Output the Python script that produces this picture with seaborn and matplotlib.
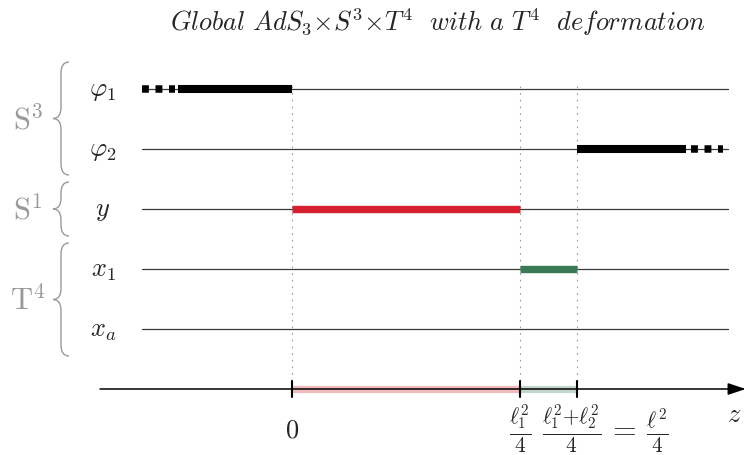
import numpy as np
import pandas as pd
import matplotlib
matplotlib.use("Agg")
import matplotlib.pyplot as plt
import seaborn as sns
from matplotlib.path import Path
from matplotlib.patches import PathPatch
from matplotlib.transforms import Affine2D

# ---------------- data ----------------
title = r"$Global\ AdS_3{\times}S^3{\times}T^4\ \ with\ a\ T^4\ \ deformation$"
row_labels = [r"$\varphi_1$", r"$\varphi_2$", r"$y$", r"$x_1$", r"$x_a$"]
z_marks = [0.0, 1.0, 1.25]
z_tick_labels = [r"$0$", r"$\frac{\ell_1^2}{4}$",
                 r"$\frac{\ell_1^2{+}\ell_2^2}{4}\,=\,\frac{\ell^2}{4}$"]
line_start, line_end = -0.658, 1.912
axis_start, axis_end = -0.842, 1.99

seg_row = [0, 1, 2, 3]
seg_start = [-0.5, 1.25, 0.0, 1.0]
seg_end = [0.0, 1.728, 1.0, 1.25]
seg_color = ["#000000", "#000000", "#d7202f", "#3b7a57"]
seg_width = [5.8, 5.8, 5.3, 5.3]

dash_row = [0, 1]
dash_start = [-0.658, 1.748]
dash_end = [-0.512, 1.891]

band_start = [0.0, 1.0]
band_end = [1.0, 1.25]
band_color = ["#d7202f", "#3b7a57"]

groups = [r"$\mathrm{S}^3$", r"$\mathrm{S}^1$", r"$\mathrm{T}^4$"]

# ---------------- figure ----------------
sns.set_theme(style="white")
plt.rcParams["mathtext.fontset"] = "cm"
plt.rcParams["font.family"] = ["DejaVu Sans"]

W, H = 750, 456
fig = plt.figure(figsize=(W / 100, H / 100), dpi=100)
ax = fig.add_axes([0, 0, 1, 1])
z0_px, unit_px = 292, 228
r0_px, row_px = 90, 60
ax.set_xlim((0 - z0_px) / unit_px, (W - z0_px) / unit_px)
ax.set_ylim((H - r0_px) / row_px, (0 - r0_px) / row_px)
ax.axis("off")

pix = Affine2D().scale(1 / W, -1 / H).translate(0, 1) + fig.transFigure

axis_row = len(row_labels)

# base lines
base = pd.DataFrame({
    "z": [line_start, line_end] * len(row_labels),
    "row": np.repeat(np.arange(len(row_labels)), 2),
})
sns.lineplot(data=base, x="z", y="row", units="row", estimator=None,
             color="#3a3a3a", lw=0.9, sort=False, ax=ax, zorder=2)

# dotted verticals
for zm in z_marks:
    ax.plot([zm, zm], [-0.05, axis_row - 0.08], color="#9a9a9a", lw=0.8,
            linestyle=(0, (1.5, 4.5)), zorder=1)

# thick segments
for i, (r, a, b, c, w) in enumerate(zip(seg_row, seg_start, seg_end,
                                         seg_color, seg_width)):
    seg = pd.DataFrame({"z": [a, b], "row": [r, r]})
    sns.lineplot(data=seg, x="z", y="row", estimator=None, color=c, lw=w,
                 sort=False, ax=ax, zorder=4, solid_capstyle="butt")

# dashed (square dots) extensions
for r, a, b in zip(dash_row, dash_start, dash_end):
    ax.plot([a, b], [r, r], color="black", lw=5.4,
            linestyle=(0, (0.92, 0.88)), dash_capstyle="butt", zorder=4)

# row labels
for i, lab in enumerate(row_labels):
    ax.text((103 - z0_px) / unit_px, i, lab, ha="center", va="center",
            fontsize=19)

# z axis
ax.annotate("", xy=(axis_end, axis_row), xytext=(axis_start, axis_row),
            arrowprops=dict(arrowstyle="-|>,head_length=0.9,head_width=0.3",
                            color="black", lw=1.1, shrinkA=0, shrinkB=0),
            zorder=3)
for a, b, c in zip(band_start, band_end, band_color):
    ax.plot([a, b], [axis_row, axis_row], color=c, alpha=0.3, lw=5.2,
            solid_capstyle="butt", zorder=2)
for zm in z_marks:
    ax.plot([zm, zm], [axis_row - 0.14, axis_row + 0.14], color="black",
            lw=1.5, zorder=5)
ax.text(axis_end - 0.05, axis_row + 0.42, r"$z$", ha="center", va="center",
        fontsize=19)

# tick labels
ax.text(z_marks[0], axis_row + 0.67, z_tick_labels[0], ha="center",
        va="center", fontsize=19)
ax.text(z_marks[1], axis_row + 0.66, z_tick_labels[1], ha="center",
        va="center", fontsize=22)
ax.text(z_marks[1] + 22 / unit_px, axis_row + 0.66, z_tick_labels[2],
        ha="left", va="center", fontsize=22)

# braces and group labels
def brace(x_r, x_m, x_l, y0, y1, d=11):
    ym = (y0 + y1) / 2
    verts = [(x_r, y0), (x_m, y0), (x_m, y0 + d),
             (x_m, ym - d), (x_m, ym), (x_l, ym),
             (x_m, ym), (x_m, ym + d),
             (x_m, y1 - d), (x_m, y1), (x_r, y1)]
    codes = [Path.MOVETO, Path.CURVE3, Path.CURVE3,
             Path.LINETO, Path.CURVE3, Path.CURVE3,
             Path.CURVE3, Path.CURVE3,
             Path.LINETO, Path.CURVE3, Path.CURVE3]
    p = PathPatch(Path(verts, codes), fill=False, edgecolor="#9a9a9a",
                  lw=1.0, transform=pix, clip_on=False)
    fig.patches.append(p)

brace_spans = [(63, 176), (183, 237), (244, 357)]
label_y = [120, 210, 300]
for (y0, y1), ly, g in zip(brace_spans, label_y, groups):
    brace(69, 61, 53, y0, y1)
    fig.text(28 / W, 1 - ly / H, g, ha="center", va="center", fontsize=22,
             color="#9a9a9a")

fig.text(438 / W, 1 - 22 / H, title, ha="center", va="center", fontsize=19)

fig.savefig("out.png", dpi=100)
